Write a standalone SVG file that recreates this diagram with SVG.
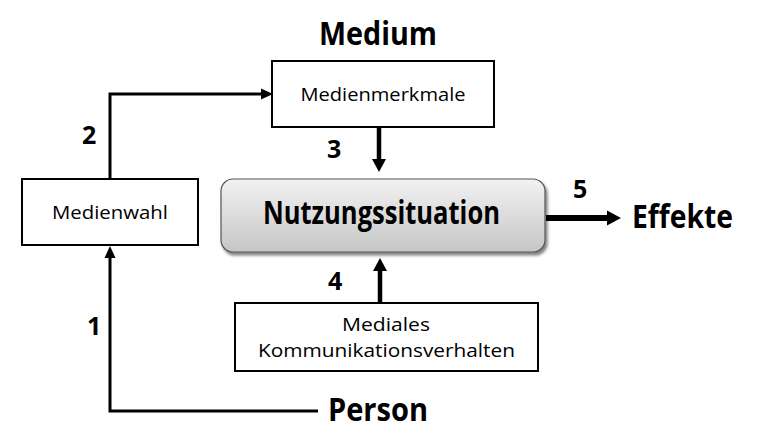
<svg xmlns="http://www.w3.org/2000/svg" width="779" height="437" viewBox="0 0 779 437">
<style>
.box{fill:#fff;stroke:#000;stroke-width:2}
.t{font-family:"Open Sans","Noto Sans",sans-serif;fill:#000}
.lbl{font-size:19px;text-anchor:middle}
.big{font-size:32px;font-weight:bold}
.num{font-size:25px;font-weight:bold}
.ln{fill:none;stroke:#000}
</style>
<defs>
<linearGradient id="g" x1="0" y1="0" x2="0" y2="1">
<stop offset="0" stop-color="#f2f2f2"/>
<stop offset="1" stop-color="#c6c6c6"/>
</linearGradient>
<filter id="sh" x="-10%" y="-20%" width="120%" height="150%">
<feGaussianBlur in="SourceAlpha" stdDeviation="1.5"/>
<feOffset dx="2" dy="3"/>
<feComponentTransfer><feFuncA type="linear" slope="0.5"/></feComponentTransfer>
<feMerge><feMergeNode/><feMergeNode in="SourceGraphic"/></feMerge>
</filter>
</defs>
<g id="connectors">
<polyline class="ln" stroke-width="3" points="110,179 110,94 262,94"/>
<polygon points="273,94 261,88.5 261,99.5"/>
<polyline class="ln" stroke-width="3" points="318,411 110,411 110,257"/>
<polygon points="110,246 104.5,258 115.5,258"/>
<line class="ln" stroke-width="4.5" x1="379" y1="127" x2="379" y2="160"/>
<polygon points="379,172 372,159 386,159"/>
<line class="ln" stroke-width="4.5" x1="380" y1="303" x2="380" y2="270"/>
<polygon points="380,258 373,271 387,271"/>
<line class="ln" stroke-width="6" x1="546" y1="218" x2="608" y2="218"/>
<polygon points="621,218 607,210.5 607,225.5"/>
</g>
<g id="medium"><text class="t big" x="319" y="45" textLength="118" lengthAdjust="spacingAndGlyphs">Medium</text></g>
<g id="medienmerkmale">
<rect class="box" x="272" y="61" width="222" height="66"/>
<text class="t lbl" x="383" y="101" textLength="165" lengthAdjust="spacingAndGlyphs">Medienmerkmale</text>
</g>
<g id="medienwahl">
<rect class="box" x="22" y="179" width="176" height="66"/>
<text class="t lbl" x="110" y="219" textLength="116" lengthAdjust="spacingAndGlyphs">Medienwahl</text>
</g>
<g id="nutzungssituation">
<rect x="221" y="179" width="324" height="73" rx="12" fill="url(#g)" stroke="#555" stroke-width="1.2" filter="url(#sh)"/>
<text class="t big" x="263" y="224" textLength="237" lengthAdjust="spacingAndGlyphs">Nutzungssituation</text>
</g>
<g id="mediales">
<rect class="box" x="235" y="303" width="303" height="68"/>
<text class="t lbl" x="386" y="331" textLength="88" lengthAdjust="spacingAndGlyphs">Mediales</text>
<text class="t lbl" x="386.5" y="357" textLength="257" lengthAdjust="spacingAndGlyphs">Kommunikationsverhalten</text>
</g>
<g id="person"><text class="t big" x="328" y="421" textLength="100" lengthAdjust="spacingAndGlyphs">Person</text></g>
<g id="effekte"><text class="t big" x="632" y="228" textLength="101" lengthAdjust="spacingAndGlyphs">Effekte</text></g>
<g id="numbers">
<text class="t num" x="87" y="335">1</text>
<text class="t num" x="82" y="144">2</text>
<text class="t num" x="327" y="158">3</text>
<text class="t num" x="328" y="290">4</text>
<text class="t num" x="573" y="198">5</text>
</g>
</svg>
